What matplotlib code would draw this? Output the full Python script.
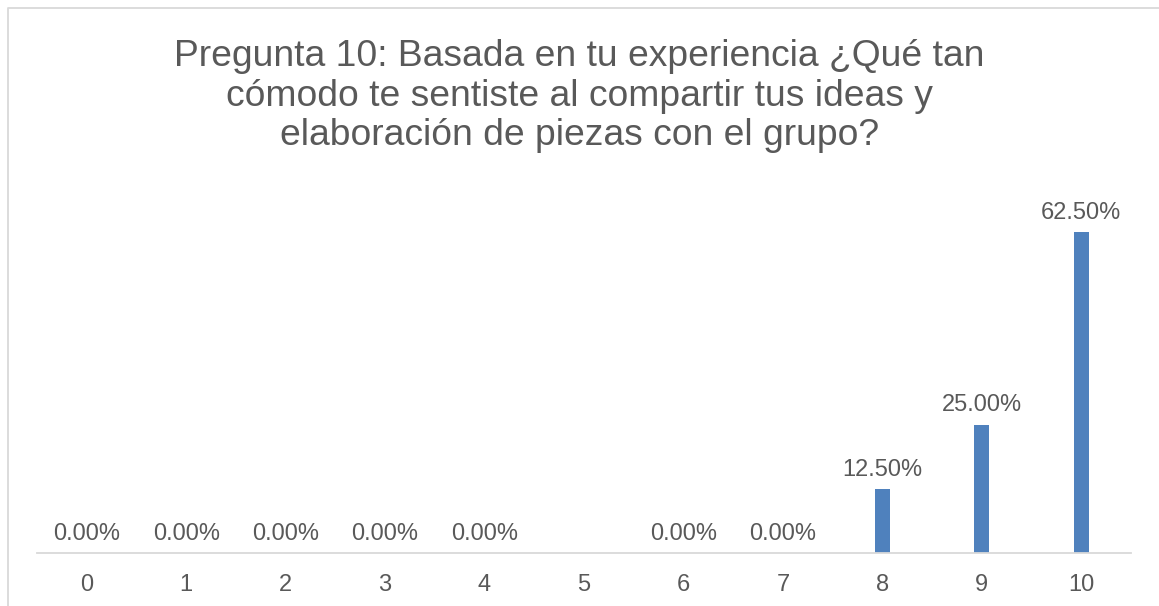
import matplotlib.pyplot as plt
from matplotlib.lines import Line2D

plt.rcParams['font.family'] = ['Liberation Sans', 'DejaVu Sans']

categorias = ['0', '1', '2', '3', '4', '5', '6', '7', '8', '9', '10']
porcentajes = [0.0, 0.0, 0.0, 0.0, 0.0, None, 0.0, 0.0, 12.5, 25.0, 62.5]
titulo = ('Pregunta 10: Basada en tu experiencia ¿Qué tan\n'
          'cómodo te sentiste al compartir tus ideas y\n'
          'elaboración de piezas con el grupo?')

gris = '#595959'
W, H = 1159, 606
fig = plt.figure(figsize=(W / 100, H / 100), dpi=100)

# ejes en pixeles: x de 37 a 1131, base en y=553
x0, x1, y_base, y_top = 37, 1131, 553, 194
ax = fig.add_axes([x0 / W, 1 - y_base / H, (x1 - x0) / W, (y_base - y_top) / H])

pos = list(range(len(categorias)))
alturas = [v if v is not None else 0 for v in porcentajes]
ax.bar(pos, alturas, width=0.15, color='#4F81BD', zorder=2)

for x, v in zip(pos, porcentajes):
    if v is None:
        continue
    ax.annotate(f'{v:.2f}%', (x, v), xytext=(0, 6), textcoords='offset points',
                ha='center', va='bottom', fontsize=17, color=gris)

ax.set_xlim(-0.5, 10.5)
ax.set_ylim(0, 70)
ax.set_xticks(pos)
ax.set_xticklabels(categorias, fontsize=17, color=gris)
ax.tick_params(axis='x', length=0, pad=15)
ax.set_yticks([])
for lado in ['top', 'right', 'left']:
    ax.spines[lado].set_visible(False)
ax.spines['bottom'].set_color('#D9D9D9')
ax.spines['bottom'].set_linewidth(1.3)

fig.text(0.5, 1 - 96 / H, titulo, ha='center', va='center', fontsize=26.8,
         color=gris, linespacing=1.16)

# marco del grafico
borde = Line2D([8 / W, 8 / W, 1.0], [0.0, 1 - 8 / H, 1 - 8 / H],
               transform=fig.transFigure, color='#D9D9D9', linewidth=1.3)
fig.add_artist(borde)

fig.savefig('out.png', dpi=100, facecolor='white')
